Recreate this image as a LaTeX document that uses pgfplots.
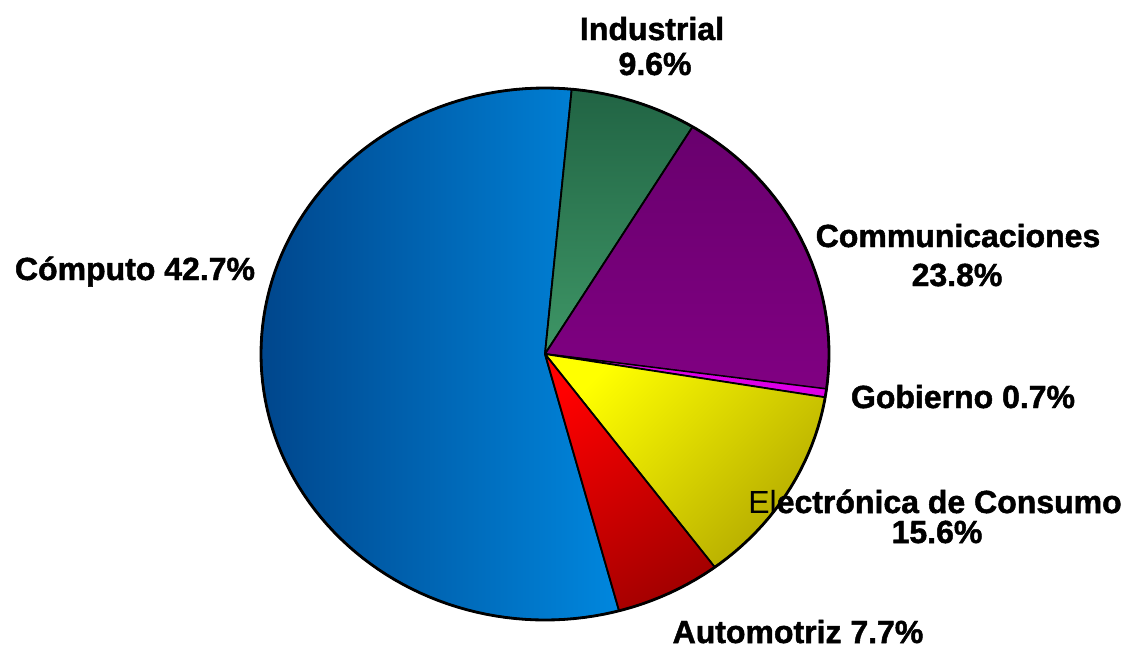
\documentclass[border=0pt]{standalone}
\usepackage{pgfplots}
\pgfplotsset{compat=1.18}
\usepackage{pgfplotstable}
\usepackage{fontspec}
\setmainfont{Liberation Sans}[BoldFeatures={FakeBold=1.5}]

\definecolor{compA}{RGB}{0,70,140}
\definecolor{compM}{RGB}{0,105,190}
\definecolor{compB}{RGB}{0,135,222}
\definecolor{indA}{RGB}{33,100,68}
\definecolor{indB}{RGB}{62,150,102}
\definecolor{comA}{RGB}{105,0,110}
\definecolor{comB}{RGB}{128,0,130}
\definecolor{gob}{RGB}{220,0,230}
\definecolor{eleA}{RGB}{255,255,0}
\definecolor{eleB}{RGB}{180,170,0}
\definecolor{autA}{RGB}{255,0,0}
\definecolor{autB}{RGB}{165,0,0}

\tikzset{lbl/.style={font=\bfseries\fontsize{16}{18}\selectfont, anchor=base, inner sep=0pt}}

% slice shares as drawn in the picture (clockwise from the top)
\pgfplotstableread{
name share
Industrial 7.2
Communicaciones 18.4
Gobierno 0.5
Electronica 12.2
Automotriz 6.0
Computo 55.7
}\piedata

\newcommand\pieslice[2]{%
  \path[#2] (axis cs:545,354)
    \foreach \k in {0,...,90}{ -- (axis cs:{545+284*cos(\csname sA#1\endcsname+(\csname sB#1\endcsname-\csname sA#1\endcsname)*\k/90)},{354-266*sin(\csname sA#1\endcsname+(\csname sB#1\endcsname-\csname sA#1\endcsname)*\k/90)}) } -- cycle;}

\begin{document}
\begin{tikzpicture}
\xdef\cur{84.6}
\foreach \i in {0,...,5}{%
  \pgfplotstablegetelem{\i}{share}\of\piedata
  \pgfmathsetmacro\nxt{\cur-3.6*\pgfplotsretval}%
  \expandafter\xdef\csname sA\i\endcsname{\cur}%
  \expandafter\xdef\csname sB\i\endcsname{\nxt}%
  \xdef\cur{\nxt}%
}
\begin{axis}[
  scale only axis, width=567.5pt, height=324.5pt,
  xmin=0, xmax=1135, ymin=0, ymax=649, y dir=reverse,
  hide axis, clip=false,
]
\path (axis cs:0,0) rectangle (axis cs:1135,649);
\pieslice{5}{left color=compA, middle color=compM, right color=compB, draw=black, line width=0.9pt, line join=round}
\pieslice{0}{top color=indA, bottom color=indB, draw=black, line width=0.9pt, line join=round}
\pieslice{1}{top color=comA, bottom color=comB, draw=black, line width=0.9pt, line join=round}
\pieslice{2}{fill=gob, draw=black, line width=0.6pt, line join=round}
\pieslice{3}{top color=eleA, bottom color=eleB, shading angle=45, draw=black, line width=0.9pt, line join=round}
\pieslice{4}{top color=autA, bottom color=autB, shading angle=30, draw=black, line width=0.9pt, line join=round}
\draw[line width=1.4pt] (axis cs:829,354) \foreach \k in {1,...,180}{ -- (axis cs:{545+284*cos(2*\k)},{354-266*sin(2*\k)}) } -- cycle;

\node[lbl] at (axis cs:652,40) {Industrial};
\node[lbl] at (axis cs:655,75) {9.6\%};
\node[lbl] at (axis cs:135,280) {Cómputo 42.7\%};
\node[lbl] at (axis cs:958,247) {Communicaciones};
\node[lbl] at (axis cs:957,286) {23.8\%};
\node[lbl] at (axis cs:963,408) {Gobierno 0.7\%};
\node[lbl] at (axis cs:935,513) {{\mdseries El}ectrónica de Consumo};
\node[lbl] at (axis cs:937,543) {15.6\%};
\node[lbl] at (axis cs:798,643) {Automotriz 7.7\%};
\end{axis}
\end{tikzpicture}
\end{document}
